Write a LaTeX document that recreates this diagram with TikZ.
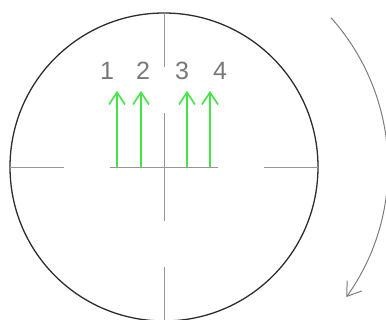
\documentclass[tikz,border=0pt]{standalone}
\usepackage{fontspec}
\setmainfont{Liberation Sans}
\usetikzlibrary{arrows.meta,calc}
\definecolor{cross}{RGB}{150,150,150}
\definecolor{rim}{RGB}{45,45,45}
\definecolor{vec}{RGB}{70,228,70}
\definecolor{lab}{RGB}{120,120,120}
\definecolor{turn}{RGB}{125,125,125}
\tikzset{
  crossline/.style={draw=cross,line width=0.8pt},
  rimline/.style={draw=rim,line width=1.3pt},
  vecarrow/.style={draw=vec,line width=1.6pt,-{Straight Barb[length=12pt,width=16pt,line width=1.6pt]}},
  numlabel/.style={text=lab,font=\fontsize{25}{25}\selectfont,inner sep=0pt},
  turnarrow/.style={draw=turn,line width=1pt,-{Straight Barb[length=13pt,width=18pt,line width=1pt]}}
}
\begin{document}
\begin{tikzpicture}[x=1pt,y=-1pt]
\useasboundingbox (0,0) rectangle (386,320);
\coordinate (c) at (164,167);
% rim
\draw[rimline] (c) circle[radius=154pt];
% crosshair
\coordinate (hl1) at (10,167);  \coordinate (hl2) at (64,167);
\coordinate (hm1) at (110,167); \coordinate (hm2) at (218,167);
\coordinate (hr1) at (264,167); \coordinate (hr2) at (318,167);
\coordinate (vt1) at (164,13);  \coordinate (vt2) at (164,67);
\coordinate (vm1) at (164,113); \coordinate (vm2) at (164,221);
\coordinate (vb1) at (164,267); \coordinate (vb2) at (164,321);
\draw[crossline] (hl1) -- (hl2) (hm1) -- (hm2) (hr1) -- (hr2);
\draw[crossline] (vt1) -- (vt2) (vm1) -- (vm2) (vb1) -- (vb2);
% green arrows
\coordinate (b1) at (117,167); \coordinate (t1) at (117,91);
\coordinate (b2) at (141,167); \coordinate (t2) at (141,91);
\coordinate (b3) at (187,167); \coordinate (t3) at (187,91);
\coordinate (b4) at (210,167); \coordinate (t4) at (210,91);
\draw[vecarrow] (b1) -- (t1);
\draw[vecarrow] (b2) -- (t2);
\draw[vecarrow] (b3) -- (t3);
\draw[vecarrow] (b4) -- (t4);
% labels
\node[numlabel] (n1) at (107,71) {1};
\node[numlabel] (n2) at (143,71) {2};
\node[numlabel] (n3) at (182,71) {3};
\node[numlabel] (n4) at (220,71) {4};
% rotation arrow
\coordinate (as) at ($(c)+(41.8:224pt)$);
\draw[turnarrow] (as) arc[start angle=41.8,end angle=-35.5,radius=224pt] coordinate (ae);
\end{tikzpicture}
\end{document}
